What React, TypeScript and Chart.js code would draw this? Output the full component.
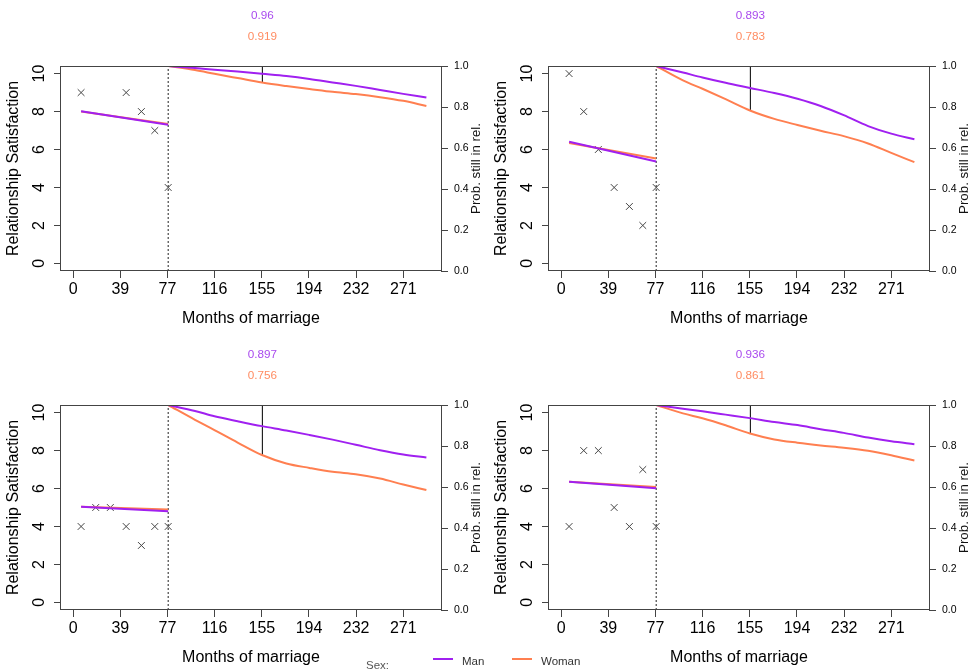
import React, { useEffect, useRef } from 'react';
import { Chart, registerables } from 'chart.js';

Chart.register(...registerables);

const FONT = "'Liberation Sans', Arial, Helvetica, sans-serif";
const MAN_COLOR = '#A020F0';
const WOMAN_COLOR = '#FF7F50';
const MAN_TEXT = '#A94AEE';
const WOMAN_TEXT = '#FF8C62';

// measurement occasions (months of marriage)
const months = [6.5, 18.5, 30.5, 43.5, 56, 67, 78];
const trendMonths = [6.5, 78];
const survivalMonths = [78, 100, 116, 135, 155, 175, 194, 213, 232, 252, 271, 290];
const splitMonth = 78;
const predictionMonth = 155.4;

const xTickValues = [0, 38.7, 77.4, 116.1, 154.9, 193.6, 232.3, 271];
const xTickLabels = ['0', '39', '77', '116', '155', '194', '232', '271'];
const satTickValues = [0, 2, 4, 6, 8, 10];
const satTickLabels = ['0', '2', '4', '6', '8', '10'];
const probTickValues = [0, 0.2, 0.4, 0.6, 0.8, 1];
const probTickLabels = ['0.0', '0.2', '0.4', '0.6', '0.8', '1.0'];

// Panel 1 (top left)
const p1Scores = [9, null, null, 9, 8, 7, 4];
const p1ManTrend = [8.02, 7.3];
const p1WomanTrend = [8.0, 7.34];
const p1ManSurv = [1.0, 0.99, 0.982, 0.973, 0.962, 0.951, 0.937, 0.92, 0.903, 0.883, 0.864, 0.846];
const p1WomanSurv = [1.0, 0.98, 0.962, 0.941, 0.919, 0.902, 0.888, 0.874, 0.863, 0.848, 0.83, 0.805];
const p1ManProb = 0.96;
const p1WomanProb = 0.919;

// Panel 2 (top right)
const p2Scores = [10, 8, 6, 4, 3, 2, 4];
const p2ManTrend = [6.41, 5.37];
const p2WomanTrend = [6.34, 5.53];
const p2ManSurv = [1.0, 0.968, 0.944, 0.918, 0.893, 0.868, 0.84, 0.805, 0.76, 0.707, 0.67, 0.643];
const p2WomanSurv = [1.0, 0.93, 0.889, 0.838, 0.783, 0.742, 0.712, 0.684, 0.658, 0.622, 0.576, 0.531];
const p2ManProb = 0.893;
const p2WomanProb = 0.783;

// Panel 3 (bottom left)
const p3Scores = [4, 5, 5, 4, 3, 4, 4];
const p3ManTrend = [5.04, 4.8];
const p3WomanTrend = [5.04, 4.89];
const p3ManSurv = [1.0, 0.971, 0.945, 0.921, 0.897, 0.876, 0.854, 0.831, 0.806, 0.779, 0.758, 0.744];
const p3WomanSurv = [1.0, 0.928, 0.878, 0.817, 0.756, 0.715, 0.693, 0.674, 0.662, 0.641, 0.612, 0.585];
const p3ManProb = 0.897;
const p3WomanProb = 0.756;

// Panel 4 (bottom right)
const p4Scores = [4, 8, 8, 5, 4, 7, 4];
const p4ManTrend = [6.36, 6.02];
const p4WomanTrend = [6.36, 6.08];
const p4ManSurv = [1.0, 0.982, 0.969, 0.953, 0.936, 0.917, 0.902, 0.882, 0.864, 0.841, 0.823, 0.809];
const p4WomanSurv = [1.0, 0.959, 0.935, 0.901, 0.861, 0.832, 0.816, 0.803, 0.792, 0.777, 0.755, 0.729];
const p4ManProb = 0.936;
const p4WomanProb = 0.861;

const legendTitle = 'Sex:';
const legendLabels = ['Man', 'Woman'];

type Panel = {
  scores: (number | null)[];
  manTrend: number[];
  womanTrend: number[];
  manSurv: number[];
  womanSurv: number[];
  manProb: number;
  womanProb: number;
};

const panels: Panel[] = [
  { scores: p1Scores, manTrend: p1ManTrend, womanTrend: p1WomanTrend, manSurv: p1ManSurv, womanSurv: p1WomanSurv, manProb: p1ManProb, womanProb: p1WomanProb },
  { scores: p2Scores, manTrend: p2ManTrend, womanTrend: p2WomanTrend, manSurv: p2ManSurv, womanSurv: p2WomanSurv, manProb: p2ManProb, womanProb: p2WomanProb },
  { scores: p3Scores, manTrend: p3ManTrend, womanTrend: p3WomanTrend, manSurv: p3ManSurv, womanSurv: p3WomanSurv, manProb: p3ManProb, womanProb: p3WomanProb },
  { scores: p4Scores, manTrend: p4ManTrend, womanTrend: p4WomanTrend, manSurv: p4ManSurv, womanSurv: p4WomanSurv, manProb: p4ManProb, womanProb: p4WomanProb },
];

const panelPositions = [
  { left: 0, top: 0 },
  { left: 488, top: 0 },
  { left: 0, top: 339 },
  { left: 488, top: 339 },
];

const CANVAS_W = 486;
const CANVAS_H = 336;

function decorPlugin(p: Panel) {
  return {
    id: 'panelDecor',
    afterDraw(chart: any) {
      const { ctx, chartArea: a, scales } = chart;
      ctx.save();
      // box
      ctx.strokeStyle = '#444';
      ctx.lineWidth = 1;
      ctx.strokeRect(a.left - 0.5, a.top + 0.5, a.right - a.left + 1, a.bottom - a.top - 1);
      // right axis title
      ctx.fillStyle = '#111';
      ctx.font = `13.3px ${FONT}`;
      ctx.textAlign = 'center';
      ctx.textBaseline = 'middle';
      ctx.translate(a.right + 35, (a.top + a.bottom) / 2);
      ctx.rotate(-Math.PI / 2);
      ctx.fillText('Prob. still in rel.', 0, 0);
      ctx.restore();
      // probabilities at prediction month
      ctx.save();
      const px = scales.x.getPixelForValue(predictionMonth);
      ctx.font = `11.7px ${FONT}`;
      ctx.textAlign = 'center';
      ctx.textBaseline = 'middle';
      ctx.fillStyle = MAN_TEXT;
      ctx.fillText(String(p.manProb), px, a.top - 50);
      ctx.fillStyle = WOMAN_TEXT;
      ctx.fillText(String(p.womanProb), px, a.top - 29.3);
      ctx.restore();
    },
  };
}

function buildConfig(p: Panel): any {
  const scorePoints = months
    .map((m, i) => (p.scores[i] == null ? null : { x: m, y: p.scores[i] as number }))
    .filter((d) => d !== null);
  const gridOpts = {
    display: true,
    drawOnChartArea: false,
    drawTicks: true,
    tickLength: 7,
    color: '#444',
  };
  const tickFont = { family: FONT, size: 16 };
  return {
    type: 'scatter',
    data: {
      datasets: [
        {
          label: 'Man trend',
          data: trendMonths.map((m, i) => ({ x: m, y: p.manTrend[i] })),
          yAxisID: 'y',
          showLine: true,
          borderColor: MAN_COLOR,
          borderWidth: 2,
          pointRadius: 0,
        },
        {
          label: 'Woman trend',
          data: trendMonths.map((m, i) => ({ x: m, y: p.womanTrend[i] })),
          yAxisID: 'y',
          showLine: true,
          borderColor: WOMAN_COLOR,
          borderWidth: 2,
          pointRadius: 0,
        },
        {
          label: 'Man survival',
          data: survivalMonths.map((m, i) => ({ x: m, y: p.manSurv[i] })),
          yAxisID: 'y2',
          showLine: true,
          borderColor: MAN_COLOR,
          borderWidth: 2,
          pointRadius: 0,
          cubicInterpolationMode: 'monotone',
        },
        {
          label: 'Woman survival',
          data: survivalMonths.map((m, i) => ({ x: m, y: p.womanSurv[i] })),
          yAxisID: 'y2',
          showLine: true,
          borderColor: WOMAN_COLOR,
          borderWidth: 2,
          pointRadius: 0,
          cubicInterpolationMode: 'monotone',
        },
        {
          label: 'Observed',
          data: scorePoints,
          yAxisID: 'y',
          showLine: false,
          pointStyle: 'crossRot',
          pointRadius: 4.8,
          borderColor: '#444',
          backgroundColor: 'transparent',
          borderWidth: 1,
        },
        {
          label: 'Split',
          data: [
            { x: splitMonth, y: 0 },
            { x: splitMonth, y: 1 },
          ],
          yAxisID: 'y2',
          showLine: true,
          borderColor: '#222',
          borderWidth: 1,
          borderDash: [2, 2],
          pointRadius: 0,
        },
        {
          label: 'Prediction',
          data: [
            { x: predictionMonth, y: 1 },
            { x: predictionMonth, y: Math.min(p.manProb, p.womanProb) },
          ],
          yAxisID: 'y2',
          showLine: true,
          borderColor: '#222',
          borderWidth: 1,
          pointRadius: 0,
        },
      ],
    },
    options: {
      responsive: false,
      animation: false,
      devicePixelRatio: 1,
      layout: { padding: { top: 66, left: 0, right: 0, bottom: 0 } },
      plugins: {
        legend: { display: false },
        tooltip: { enabled: false },
        title: { display: false },
      },
      scales: {
        x: {
          type: 'linear',
          bounds: 'data',
          min: -10,
          max: 302,
          afterBuildTicks: (s: any) => {
            s.ticks = xTickValues.map((v) => ({ value: v }));
          },
          afterFit: (s: any) => {
            s.height = CANVAS_H - 271;
          },
          ticks: {
            autoSkip: false,
            maxRotation: 0,
            minRotation: 0,
            padding: 2,
            font: tickFont,
            color: '#000',
            callback: (_v: any, i: number) => xTickLabels[i],
          },
          grid: gridOpts,
          border: { display: false },
          title: {
            display: true,
            text: 'Months of marriage',
            font: { family: FONT, size: 16 },
            color: '#000',
            padding: { top: 0, bottom: 8 },
          },
        },
        y: {
          type: 'linear',
          position: 'left',
          bounds: 'data',
          min: -0.4,
          max: 10.4,
          afterBuildTicks: (s: any) => {
            s.ticks = satTickValues.map((v) => ({ value: v }));
          },
          afterFit: (s: any) => {
            s.width = 61;
          },
          ticks: {
            minRotation: 90,
            maxRotation: 90,
            crossAlign: 'center',
            padding: 6,
            font: tickFont,
            color: '#000',
            callback: (_v: any, i: number) => satTickLabels[i],
          },
          grid: gridOpts,
          border: { display: false },
          title: {
            display: true,
            text: 'Relationship Satisfaction',
            font: { family: FONT, size: 16 },
            color: '#000',
            padding: { top: 4, bottom: 0 },
          },
        },
        y2: {
          type: 'linear',
          position: 'right',
          bounds: 'data',
          min: 0,
          max: 1,
          afterBuildTicks: (s: any) => {
            s.ticks = probTickValues.map((v) => ({ value: v }));
          },
          afterFit: (s: any) => {
            s.width = CANVAS_W - 441;
          },
          ticks: {
            padding: 6,
            font: { family: FONT, size: 10.5 },
            color: '#000',
            callback: (_v: any, i: number) => probTickLabels[i],
          },
          grid: gridOpts,
          border: { display: false },
        },
      },
    },
    plugins: [decorPlugin(p)],
  };
}

function PanelChart({ panel, left, top }: { panel: Panel; left: number; top: number }) {
  const ref = useRef<HTMLCanvasElement>(null);
  useEffect(() => {
    if (!ref.current) return;
    const chart = new Chart(ref.current, buildConfig(panel));
    return () => chart.destroy();
  }, [panel]);
  return (
    <div style={{ position: 'absolute', left, top, width: CANVAS_W, height: CANVAS_H }}>
      <canvas
        ref={ref}
        width={CANVAS_W}
        height={CANVAS_H}
        style={{ display: 'block', width: CANVAS_W, height: CANVAS_H }}
      />
    </div>
  );
}

export default function App() {
  const textStyle: React.CSSProperties = {
    position: 'absolute',
    font: `11.5px ${FONT}`,
    lineHeight: '14px',
    color: '#333',
    whiteSpace: 'nowrap',
  };
  return (
    <div
      style={{
        position: 'absolute',
        left: 0,
        top: 0,
        width: 973,
        height: 671,
        overflow: 'hidden',
        background: '#fff',
      }}
    >
      {panels.map((p, i) => (
        <PanelChart key={i} panel={p} left={panelPositions[i].left} top={panelPositions[i].top} />
      ))}
      <div style={{ ...textStyle, left: 366, top: 658, color: '#555' }}>{legendTitle}</div>
      <div style={{ position: 'absolute', left: 433, top: 658, width: 20, height: 2, background: MAN_COLOR }} />
      <div style={{ ...textStyle, left: 462, top: 654 }}>{legendLabels[0]}</div>
      <div style={{ position: 'absolute', left: 512, top: 658, width: 20, height: 2, background: WOMAN_COLOR }} />
      <div style={{ ...textStyle, left: 541, top: 654 }}>{legendLabels[1]}</div>
    </div>
  );
}
